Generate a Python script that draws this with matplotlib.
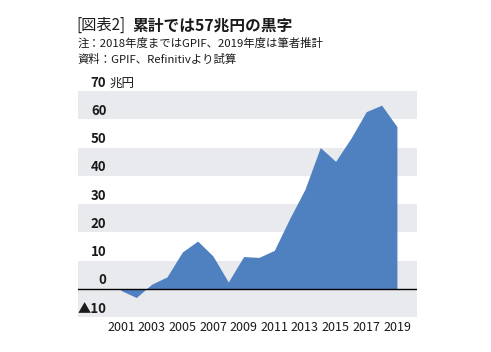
import matplotlib
matplotlib.use("Agg")
import matplotlib.pyplot as plt

plt.rcParams['font.family'] = ['Noto Sans CJK JP', 'DejaVu Sans']

years = [2001, 2002, 2003, 2004, 2005, 2006, 2007, 2008, 2009, 2010,
         2011, 2012, 2013, 2014, 2015, 2016, 2017, 2018, 2019]
cumulative = [-0.6, -3.1, 1.6, 4.2, 13.0, 16.9, 11.6, 2.4, 11.4, 11.1,
              13.6, 24.8, 35.2, 50.0, 45.1, 53.3, 62.7, 65.0, 57.4]
yticks = [-10, 0, 10, 20, 30, 40, 50, 60, 70]
ytick_labels = ["▲10", "0", "10", "20", "30", "40", "50", "60", "70"]
xticks = [2001, 2003, 2005, 2007, 2009, 2011, 2013, 2015, 2017, 2019]

fig = plt.figure(figsize=(4.91, 3.52), dpi=100)
ax = fig.add_axes([0.159, 0.0994, 0.69, 0.642])

# shaded bands
for lo, hi in [(-10, 0), (0, 10), (20, 30), (40, 50), (60, 70)]:
    ax.axhspan(lo, hi, color="#e8eaee", lw=0, zorder=0)

ax.fill_between(years, cumulative, 0, color="#4f81c1", lw=0, zorder=2)
ax.axhline(0, color="black", lw=1.0, zorder=3)

ax.set_xlim(1998.2, 2020.3)
ax.set_ylim(-10, 70)
ax.set_xticks(xticks)
ax.set_xticklabels([str(y) for y in xticks], fontsize=9, color="#1a1a1a")
ax.set_yticks([])
ax.tick_params(axis="x", length=0, pad=3)
for s in ax.spines.values():
    s.set_visible(False)

# y labels sit above their gridline
for v, lab in zip(yticks, ytick_labels):
    ax.text(2000.05, v + 0.5, lab, ha="right", va="bottom", fontsize=9.5,
            fontweight="bold", color="#1a1a1a")
ax.text(2000.25, 70.5, "兆円", ha="left", va="bottom", fontsize=9, color="#1a1a1a")

fig.text(0.155, 0.928, "[図表2]", fontsize=11, ha="left", va="center", color="#1a1a1a")
fig.text(0.270, 0.928, "累計では57兆円の黒字", fontsize=11.3, fontweight="bold",
         ha="left", va="center", color="#1a1a1a")
fig.text(0.157, 0.877, "注：2018年度まではGPIF、2019年度は筆者推計", fontsize=8.2,
         ha="left", va="center", color="#1a1a1a")
fig.text(0.157, 0.830, "資料：GPIF、Refinitivより試算", fontsize=8.2,
         ha="left", va="center", color="#1a1a1a")

fig.savefig("out.png", dpi=100)
